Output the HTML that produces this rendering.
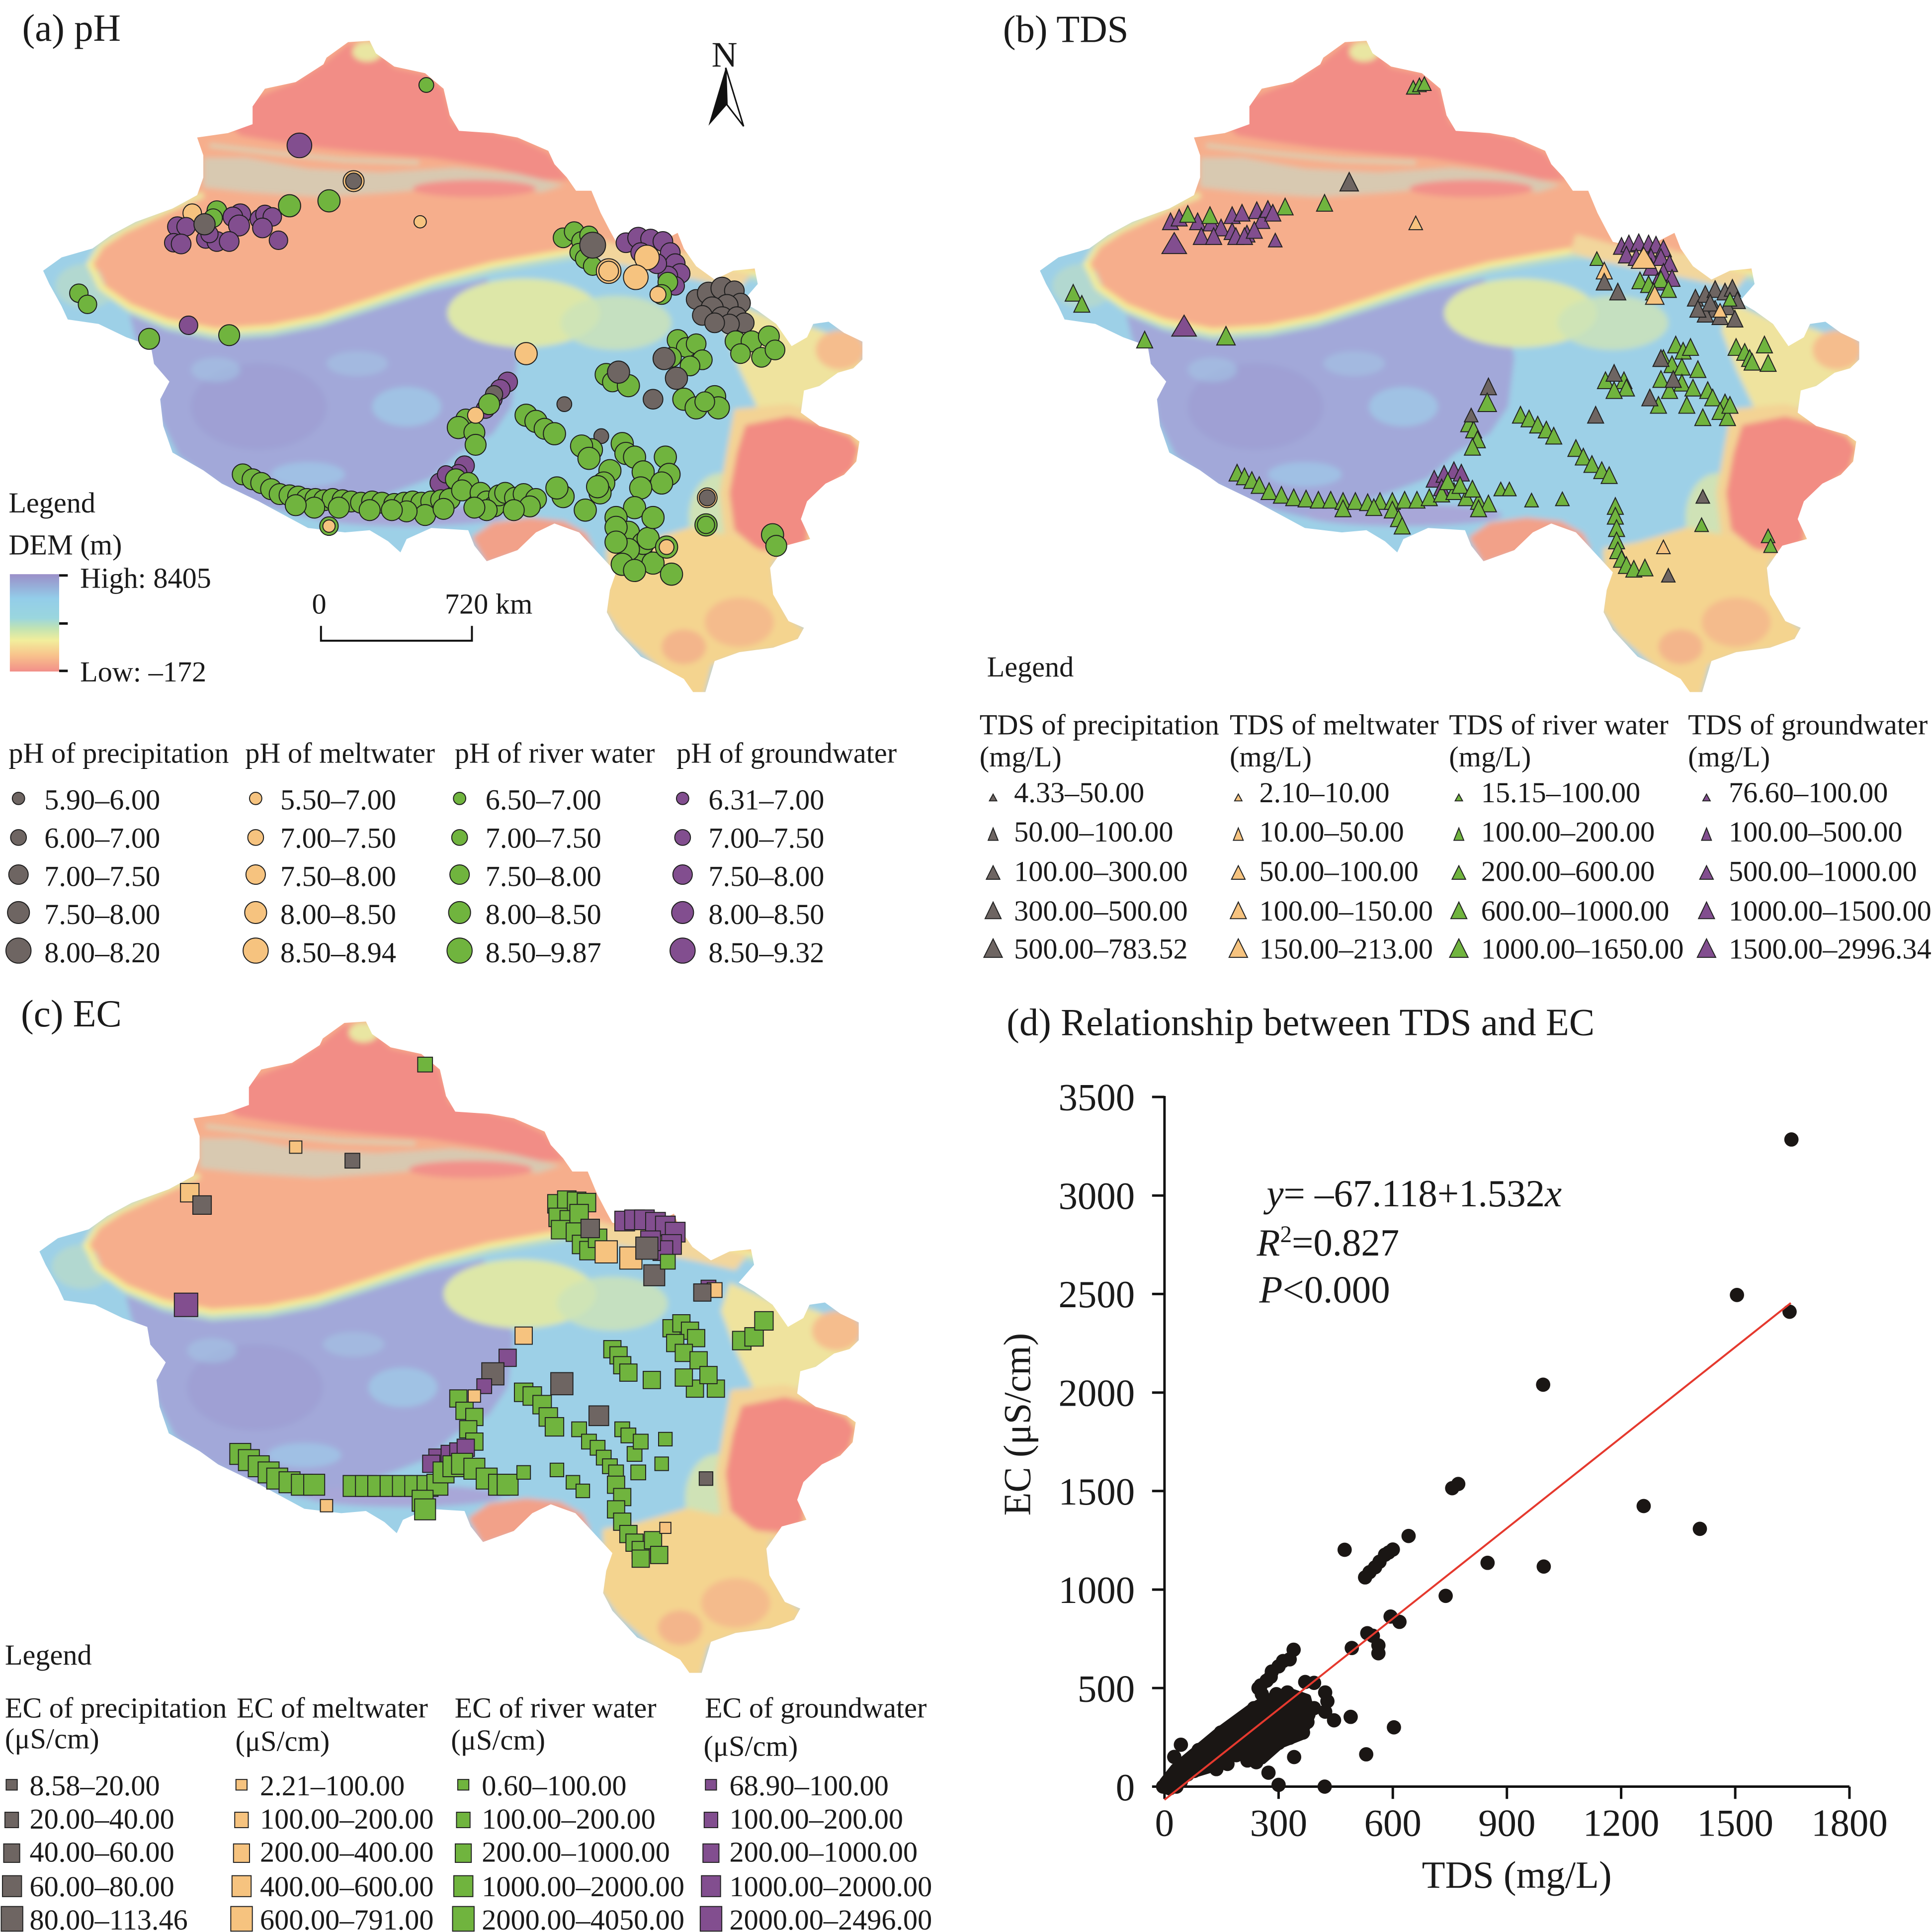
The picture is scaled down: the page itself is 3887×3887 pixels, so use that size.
<!DOCTYPE html>
<html><head><meta charset="utf-8"><style>
html,body{margin:0;padding:0;background:#fff;overflow:hidden}
svg{display:block}
text{font-family:"Liberation Serif","Times New Roman",serif;fill:#1a1a1a}
</style></head><body>
<svg xmlns="http://www.w3.org/2000/svg" xmlns:xlink="http://www.w3.org/1999/xlink" width="3887" height="3887" viewBox="0 0 1568 1568">
<defs>
<filter id="bl" x="-5%" y="-5%" width="110%" height="110%"><feGaussianBlur stdDeviation="2.3"/></filter>
<clipPath id="outline"><path d="M282.5,34.2 L300,33.1 L305,43.2 L320,54 L345,59.4 L360,72 L365,93.6 L372.5,106.2 L400,108 L420,111.6 L445,122.4 L450,133.2 L460,144 L467.5,154.8 L480,154.8 L487.5,172.8 L495,187.2 L500,196.3 L525,201.7 L550,189 L555,201.7 L565,216 L580,226.9 L595,219.7 L612.5,217.9 L615,230.5 L602.5,244.9 L615,252.1 L630,262.9 L642.5,280.9 L655,273.7 L660,262.9 L672.5,261.1 L685,270.1 L700,277.3 L700,291.7 L692.5,298.9 L680,302.5 L665,313.3 L652.5,316.9 L650,334.9 L665,345.7 L690,352.9 L697.5,358.3 L695,374.5 L685,385.3 L670,392.5 L655,406.9 L650,421.3 L657.5,437.5 L637.5,442.9 L625,460.9 L627.5,482.5 L640,504.1 L652.5,509.5 L647.5,518.5 L627.5,525.7 L600,529.3 L580,536.5 L572.5,561.7 L562.5,561.7 L555,551 L535,540.1 L520,532.9 L500,511.3 L492.5,496.9 L495,478.9 L500,464.5 L480,442.9 L470,432.1 L450,424.9 L435,432.1 L420,446.5 L395,455.5 L385,442.9 L380,430.3 L350,428.5 L330,437.5 L325,448.3 L315,439.3 L300,430.3 L280,432.1 L250,428.5 L230,417.7 L210,406.9 L180,392.5 L165,381.7 L140,367.3 L132.5,345.7 L130,324.1 L137.5,309.7 L125,295.3 L122.5,280.9 L102.5,273.7 L80,262.9 L55,259.3 L50,248.5 L40,230.5 L35,219.7 L50,208.9 L75,201.7 L90,190.9 L110,180.1 L140,169.2 L160,158.4 L165,144 L165,126 L160,111.6 L185,108 L205,100.8 L205,86.4 L215,72 L240,66.6 L262.5,52.2 L265,46.8 Z"/></clipPath>
<linearGradient id="ramp" x1="0" y1="0" x2="0" y2="1">
<stop offset="0" stop-color="#9a8fc8"/><stop offset="0.25" stop-color="#93cde9"/><stop offset="0.45" stop-color="#9ad6de"/><stop offset="0.56" stop-color="#c2e3b2"/><stop offset="0.68" stop-color="#f2ee9c"/><stop offset="0.83" stop-color="#f8c48c"/><stop offset="1" stop-color="#f28f89"/>
</linearGradient>
<g id="dem"><g clip-path="url(#outline)"><g filter="url(#bl)">
<rect x="0" y="0" width="760" height="600" fill="#9dd0e7"/>
<path d="M105,255 L135,268 L175,276 L220,273 L260,265 L300,252 L350,236 L395,226 L410,250 L420,290 L415,330 L400,352 L372,368 L350,388 L318,400 L285,412 L250,420 L210,410 L175,392 L145,370 L130,340 L125,300 L110,275 Z" fill="#a2a8d9"/>
<ellipse cx="210" cy="330" rx="55" ry="35" fill="#9c98cf" opacity="0.5"/>
<ellipse cx="330" cy="330" rx="28" ry="16" fill="#a0c8e6" opacity="0.8"/>
<ellipse cx="250" cy="385" rx="30" ry="10" fill="#a0c6e6" opacity="0.8"/>
<ellipse cx="175" cy="300" rx="20" ry="10" fill="#a4c4e4" opacity="0.6"/>
<ellipse cx="290" cy="295" rx="25" ry="10" fill="#a4c4e4" opacity="0.6"/>
<ellipse cx="330" cy="418" rx="80" ry="9" fill="#a8a7d8"/>
<ellipse cx="70" cy="232" rx="25" ry="18" fill="#b2d8d0"/>
<path d="M150,0 L760,0 L760,210 L625,222 L600,216 L570,208 L540,203 L505,201 L470,201 L440,206 L400,213 L350,226 L300,243 L260,256 L220,264 L175,267 L135,259 L105,247 L82,232 L74,215 L82,200 L100,188 L128,175 L150,165 Z" fill="#f6ae8c"/>
<polyline points="78,220 86,238 108,254 137,266 175,274 220,271 260,263 300,250 350,233 400,220 440,213 470,208 505,208 540,210 570,215 600,223 628,230" fill="none" stroke="#b7dccb" stroke-width="4"/>
<polyline points="72,212 82,233 105,249 135,261 175,269 220,266 260,258 300,245 350,228 400,215 440,208 470,203 505,203 540,205 570,210 600,218 628,225" fill="none" stroke="#f4ec96" stroke-width="5"/>
<polyline points="74,212 82,199 100,187 128,174 150,164 165,158" fill="none" stroke="#ebe7a0" stroke-width="5"/>
<path d="M185,100 L205,80 L240,66 L262,52 L282,36 L300,34 L320,55 L345,60 L360,72 L368,100 L420,112 L445,124 L462,146 L440,146 L400,136 L350,128 L300,124 L260,120 L225,115 L195,110 Z" fill="#f28d86"/>
<ellipse cx="298" cy="42" rx="12" ry="8" fill="#e9e6a2"/>
<path d="M165,128 L200,128 L250,137 L310,140 L370,136 L420,141 L458,150 L440,156 L380,150 L320,156 L260,160 L200,156 L165,152 Z" fill="#bfe0d0" opacity="0.55"/>
<polyline points="170,118 220,124 280,130 340,132" fill="none" stroke="#c8e3c7" stroke-width="3" opacity="0.7"/>
<ellipse cx="385" cy="153" rx="50" ry="7" fill="#f2908a"/>
<ellipse cx="425" cy="254" rx="62" ry="28" fill="#dde7a8"/>
<ellipse cx="500" cy="262" rx="45" ry="22" fill="#cde3b9" opacity="0.85"/>
<path d="M470,190 L500,198 L540,200 L580,215 L610,222 L600,235 L570,228 L530,220 L490,212 L465,205 Z" fill="#f2d69c"/>
<path d="M595,245 L630,260 L660,266 L700,280 L700,300 L668,314 L652,330 L642,355 L618,338 L600,300 L588,268 Z" fill="#efe39e"/>
<ellipse cx="682" cy="284" rx="20" ry="16" fill="#f5bd8d"/>
<ellipse cx="585" cy="420" rx="26" ry="36" fill="#cfe2b6"/>
<path d="M596,332 L640,328 L670,336 L700,350 L705,380 L685,398 L668,414 L662,446 L636,456 L610,454 L588,436 L584,400 L590,365 Z" fill="#f3d394"/>
<path d="M605,345 L640,338 L665,344 L690,354 L697,364 L692,381 L678,392 L664,406 L656,424 L655,440 L638,448 L615,446 L596,430 L592,400 L598,368 Z" fill="#f28c83"/>
<path d="M492,445 L520,440 L560,428 L598,436 L628,452 L628,472 L640,500 L655,512 L645,525 L600,532 L578,540 L572,565 L560,565 L535,542 L505,516 L490,495 L493,468 Z" fill="#f4d48f"/>
<ellipse cx="600" cy="505" rx="28" ry="20" fill="#f4bb8c"/>
<ellipse cx="555" cy="525" rx="18" ry="14" fill="#f3b58b"/>
<path d="M383,436 L400,424 L430,420 L458,423 L476,433 L482,446 L470,456 L440,455 L418,450 L395,458 Z" fill="#f2a189"/>
</g></g></g>
<polygon id="t1" points="0,-3.3 -3,2.2 3,2.2" stroke="#222" stroke-width="0.8"/>
<polygon id="t2" points="0,-6 -4,4 4,4" stroke="#222" stroke-width="0.8"/>
<polygon id="t3" points="0,-6.6 -5.5,4.4 5.5,4.4" stroke="#222" stroke-width="0.8"/>
<polygon id="t4" points="0,-8.1 -6.5,5.4 6.5,5.4" stroke="#222" stroke-width="0.8"/>
<polygon id="t5" points="0,-9 -7.5,6 7.5,6" stroke="#222" stroke-width="0.8"/>
<polygon id="t6" points="0,-10.2 -10,6.8 10,6.8" stroke="#222" stroke-width="0.8"/>
<rect id="s9" x="-4.5" y="-4.5" width="9" height="9" stroke="#222" stroke-width="0.8"/>
<rect id="s10" x="-5" y="-5" width="10" height="10" stroke="#222" stroke-width="0.8"/>
<rect id="s11" x="-5.5" y="-5.5" width="11" height="11" stroke="#222" stroke-width="0.8"/>
<rect id="s12" x="-6" y="-6" width="12" height="12" stroke="#222" stroke-width="0.8"/>
<rect id="s14" x="-7" y="-7" width="14" height="14" stroke="#222" stroke-width="0.8"/>
<rect id="s15" x="-7.5" y="-7.5" width="15" height="15" stroke="#222" stroke-width="0.8"/>
<rect id="s16" x="-8" y="-8" width="16" height="16" stroke="#222" stroke-width="0.8"/>
<rect id="s17" x="-8.5" y="-8.5" width="17" height="17" stroke="#222" stroke-width="0.8"/>
<rect id="s18" x="-9" y="-9" width="18" height="18" stroke="#222" stroke-width="0.8"/>
<rect id="s19" x="-9.5" y="-9.5" width="19" height="19" stroke="#222" stroke-width="0.8"/>
</defs>

<!-- maps -->
<use href="#dem" x="0" y="0"/>
<use href="#dem" x="809" y="0"/>
<use href="#dem" x="-3" y="796"/>

<!-- ===== (a) pH markers ===== -->
<g stroke="#1e1e1e" stroke-width="0.8">
<circle cx="346" cy="69" r="6" fill="#70b43e"/>
<circle cx="243" cy="118" r="10" fill="#824e8f"/>
<circle cx="287" cy="147" r="8.5" fill="#f6c37f"/><circle cx="287" cy="147" r="6.5" fill="#6e6562"/>
<circle cx="235" cy="167" r="9" fill="#70b43e"/><circle cx="267" cy="163" r="9" fill="#70b43e"/>
<circle cx="341" cy="180" r="5" fill="#f6c37f"/>
<circle cx="156" cy="173" r="7.5" fill="#f6c37f"/><circle cx="176" cy="171" r="8" fill="#70b43e"/><circle cx="173" cy="177" r="7.5" fill="#70b43e"/>
<g fill="#824e8f">
<circle cx="144" cy="184" r="8"/><circle cx="151" cy="184" r="7.5"/><circle cx="141" cy="197" r="7.5"/><circle cx="147" cy="198" r="8"/>
<circle cx="195" cy="174" r="8.5"/><circle cx="189" cy="176" r="8"/><circle cx="194" cy="183" r="8.5"/>
<circle cx="211" cy="178" r="8"/><circle cx="215" cy="174" r="7.5"/><circle cx="221" cy="176" r="7.5"/><circle cx="213" cy="185" r="8"/>
<circle cx="226" cy="195" r="7.5"/><circle cx="167" cy="194" r="7.5"/><circle cx="176" cy="196" r="8"/><circle cx="186" cy="196" r="8"/><circle cx="170" cy="190" r="7"/>
</g>
<circle cx="166" cy="182" r="8.6" fill="#6e6562"/>
<circle cx="64" cy="238" r="7.5" fill="#70b43e"/><circle cx="71" cy="247" r="7.5" fill="#70b43e"/>
<circle cx="153" cy="264" r="7.5" fill="#824e8f"/><circle cx="121" cy="275" r="8.5" fill="#70b43e"/><circle cx="186" cy="272" r="8.5" fill="#70b43e"/>
<g fill="#70b43e"><circle cx="457" cy="193" r="8"/><circle cx="466" cy="188" r="8"/><circle cx="472" cy="196" r="8"/><circle cx="478" cy="191" r="7.5"/><circle cx="470" cy="205" r="7.5"/><circle cx="475" cy="210" r="8"/><circle cx="481" cy="216" r="7.5"/></g>
<circle cx="481" cy="199" r="10.5" fill="#6e6562"/>
<circle cx="494" cy="220" r="10" fill="#f6c37f"/><circle cx="494" cy="220" r="8" fill="none"/>
<g fill="#824e8f"><circle cx="508" cy="197" r="8"/><circle cx="518" cy="193" r="8.5"/><circle cx="528" cy="194" r="8"/><circle cx="538" cy="196" r="8"/><circle cx="544" cy="205" r="8"/><circle cx="548" cy="214" r="8"/><circle cx="552" cy="222" r="8"/><circle cx="542" cy="224" r="8"/><circle cx="533" cy="214" r="8"/><circle cx="520" cy="205" r="8"/><circle cx="548" cy="232" r="7.5"/></g>
<circle cx="525" cy="209" r="10" fill="#f6c37f"/><circle cx="516" cy="225" r="10" fill="#f6c37f"/>
<circle cx="542" cy="229" r="8" fill="#70b43e"/><circle cx="537" cy="239" r="8" fill="#70b43e"/><circle cx="534" cy="239" r="6.5" fill="#f6c37f"/>
<g fill="#6e6562"><circle cx="565" cy="243" r="8"/><circle cx="575" cy="238" r="9"/><circle cx="586" cy="234" r="9"/><circle cx="596" cy="236" r="8"/><circle cx="601" cy="246" r="8"/><circle cx="590" cy="248" r="9"/><circle cx="578" cy="250" r="9"/><circle cx="570" cy="256" r="8"/><circle cx="586" cy="258" r="9"/><circle cx="598" cy="257" r="8"/><circle cx="604" cy="262" r="8"/><circle cx="592" cy="263" r="8"/><circle cx="580" cy="262" r="8"/></g>
<g fill="#70b43e"><circle cx="597" cy="277" r="8.5"/><circle cx="610" cy="277" r="8.5"/><circle cx="624" cy="273" r="8.5"/><circle cx="601" cy="287" r="8"/><circle cx="618" cy="290" r="8"/><circle cx="629" cy="284" r="8"/>
<circle cx="550" cy="276" r="8.5"/><circle cx="557" cy="282" r="8"/><circle cx="565" cy="279" r="8"/><circle cx="570" cy="292" r="8"/><circle cx="560" cy="297" r="8"/><circle cx="545" cy="290" r="8"/></g>
<circle cx="539" cy="291" r="9" fill="#6e6562"/><circle cx="549" cy="307" r="9" fill="#6e6562"/>
<circle cx="492" cy="304" r="9" fill="#70b43e"/><circle cx="497" cy="310" r="8" fill="#70b43e"/><circle cx="510" cy="313" r="9" fill="#70b43e"/><circle cx="502" cy="302" r="9" fill="#6e6562"/>
<circle cx="530" cy="324" r="8" fill="#6e6562"/>
<g fill="#70b43e"><circle cx="555" cy="324" r="9"/><circle cx="565" cy="331" r="9"/><circle cx="580" cy="322" r="9"/><circle cx="583" cy="331" r="9"/><circle cx="572" cy="326" r="8"/></g>
<circle cx="427" cy="287" r="9" fill="#f6c37f"/>
<g fill="#824e8f"><circle cx="412" cy="310" r="8"/><circle cx="406" cy="316" r="8"/><circle cx="400" cy="324" r="7.5"/><circle cx="394" cy="332" r="7.5"/></g>
<circle cx="401" cy="320" r="7" fill="#6e6562"/>
<g fill="#70b43e"><circle cx="397" cy="328" r="8.5"/><circle cx="378" cy="340" r="8"/><circle cx="372" cy="347" r="9"/><circle cx="385" cy="351" r="8.5"/><circle cx="386" cy="361" r="8.5"/></g>
<circle cx="386" cy="337" r="6.5" fill="#f6c37f"/>
<circle cx="458" cy="328" r="6" fill="#6e6562"/>
<g fill="#70b43e"><circle cx="427" cy="337" r="9"/><circle cx="435" cy="342" r="9"/><circle cx="442" cy="348" r="8.5"/><circle cx="450" cy="352" r="9"/></g>
<circle cx="488" cy="354" r="6" fill="#6e6562"/>
<g fill="#70b43e"><circle cx="480" cy="365" r="9"/><circle cx="472" cy="362" r="9"/><circle cx="478" cy="372" r="9"/><circle cx="505" cy="360" r="9"/><circle cx="508" cy="368" r="9"/><circle cx="515" cy="371" r="9"/><circle cx="522" cy="383" r="9"/><circle cx="540" cy="371" r="9"/><circle cx="543" cy="385" r="9"/><circle cx="537" cy="392" r="9"/><circle cx="495" cy="382" r="9"/><circle cx="490" cy="392" r="9"/><circle cx="487" cy="400" r="9"/><circle cx="520" cy="396" r="9"/><circle cx="515" cy="412" r="9"/><circle cx="500" cy="420" r="9"/><circle cx="510" cy="432" r="9"/><circle cx="520" cy="447" r="9"/><circle cx="530" cy="457" r="9"/><circle cx="545" cy="466" r="9"/><circle cx="522" cy="441" r="9"/><circle cx="500" cy="428" r="9"/><circle cx="475" cy="414" r="9"/><circle cx="457" cy="403" r="9"/><circle cx="452" cy="396" r="9"/><circle cx="485" cy="395" r="9"/><circle cx="510" cy="446" r="9"/><circle cx="505" cy="458" r="9"/><circle cx="515" cy="463" r="9"/><circle cx="526" cy="437" r="9"/><circle cx="530" cy="420" r="9"/><circle cx="500" cy="440" r="9"/></g>
<circle cx="541" cy="444" r="9" fill="#70b43e"/><circle cx="541" cy="444" r="6" fill="#f6c37f"/>
<circle cx="574" cy="404" r="8" fill="#f6c37f"/><circle cx="574" cy="404" r="6.5" fill="#6e6562"/>
<circle cx="573" cy="426" r="9" fill="#70b43e"/><circle cx="573" cy="426" r="7" fill="none"/>
<circle cx="627" cy="434" r="9" fill="#70b43e"/><circle cx="630" cy="443" r="8.5" fill="#70b43e"/>
<g fill="#824e8f"><circle cx="357" cy="392" r="8"/><circle cx="377" cy="378" r="8"/><circle cx="372" cy="384" r="7"/><circle cx="362" cy="385" r="7"/></g>
<g fill="#70b43e"><circle cx="197" cy="385" r="8.5"/><circle cx="205" cy="389" r="8.5"/><circle cx="212" cy="392" r="8.5"/><circle cx="220" cy="397" r="8.5"/><circle cx="227" cy="401" r="8.5"/><circle cx="235" cy="402" r="8.5"/><circle cx="242" cy="403" r="8.5"/><circle cx="249" cy="405" r="8.5"/><circle cx="256" cy="405" r="8.5"/><circle cx="263" cy="406" r="8.5"/><circle cx="270" cy="405" r="8.5"/><circle cx="278" cy="406" r="8.5"/><circle cx="285" cy="407" r="8.5"/><circle cx="293" cy="408" r="8.5"/><circle cx="302" cy="407" r="8.5"/><circle cx="310" cy="408" r="8.5"/><circle cx="320" cy="409" r="8.5"/><circle cx="328" cy="408" r="8.5"/><circle cx="335" cy="407" r="8.5"/><circle cx="342" cy="408" r="8.5"/><circle cx="350" cy="407" r="8.5"/><circle cx="358" cy="406" r="8.5"/><circle cx="365" cy="405" r="8.5"/><circle cx="370" cy="389" r="8.5"/><circle cx="380" cy="392" r="8.5"/><circle cx="375" cy="398" r="8.5"/><circle cx="390" cy="400" r="8.5"/><circle cx="395" cy="407" r="8.5"/><circle cx="401" cy="411" r="8.5"/><circle cx="405" cy="402" r="8.5"/><circle cx="410" cy="400" r="8.5"/><circle cx="418" cy="404" r="8.5"/><circle cx="425" cy="401" r="8.5"/><circle cx="435" cy="405" r="8.5"/><circle cx="430" cy="411" r="8.5"/><circle cx="345" cy="418" r="8.5"/><circle cx="300" cy="414" r="8.5"/><circle cx="395" cy="414" r="8.5"/><circle cx="417" cy="414" r="8.5"/><circle cx="360" cy="413" r="8.5"/><circle cx="385" cy="412" r="8.5"/><circle cx="330" cy="415" r="8.5"/><circle cx="318" cy="414" r="8.5"/><circle cx="255" cy="412" r="8.5"/><circle cx="240" cy="410" r="8.5"/><circle cx="275" cy="412" r="8.5"/></g>
<circle cx="267" cy="427" r="7.5" fill="#70b43e"/><circle cx="267" cy="427" r="5" fill="#f6c37f"/>
</g>

<!-- ===== (b) TDS markers ===== -->
<g>
<use href="#t3" x="1147" y="72" fill="#70b43e"/><use href="#t3" x="1152" y="70" fill="#70b43e"/><use href="#t3" x="1156" y="69" fill="#70b43e"/>
<use href="#t5" x="1095" y="149" fill="#6e6562"/>
<use href="#t3" x="1149" y="182" fill="#f6c37f"/>
<use href="#t4" x="1043" y="169" fill="#70b43e"/><use href="#t4" x="1075" y="166" fill="#70b43e"/>
<g fill="#824e8f">
<use href="#t4" x="950" y="181"/><use href="#t4" x="957" y="178"/><use href="#t4" x="972" y="181"/><use href="#t4" x="983" y="182"/><use href="#t4" x="991" y="186"/><use href="#t4" x="1000" y="176"/><use href="#t4" x="1008" y="174"/><use href="#t4" x="1020" y="172"/><use href="#t4" x="1024" y="180"/><use href="#t4" x="1029" y="171"/><use href="#t4" x="1033" y="174"/><use href="#t4" x="1000" y="189"/><use href="#t4" x="1012" y="191"/><use href="#t4" x="975" y="193"/><use href="#t4" x="985" y="193"/><use href="#t4" x="1003" y="193"/><use href="#t4" x="1010" y="193"/><use href="#t4" x="1018" y="188"/>
</g>
<use href="#t4" x="964" y="175" fill="#70b43e"/><use href="#t4" x="982" y="176" fill="#70b43e"/>
<use href="#t6" x="953" y="199" fill="#824e8f"/><use href="#t3" x="1035" y="196" fill="#824e8f"/><use href="#t6" x="961" y="266" fill="#824e8f"/>
<use href="#t4" x="871" y="239" fill="#70b43e"/><use href="#t4" x="878" y="248" fill="#70b43e"/><use href="#t4" x="929" y="277" fill="#70b43e"/><use href="#t5" x="995" y="274" fill="#70b43e"/>
<g fill="#824e8f">
<use href="#t4" x="1316" y="201"/><use href="#t4" x="1322" y="199"/><use href="#t4" x="1330" y="198"/><use href="#t4" x="1338" y="199"/><use href="#t4" x="1344" y="200"/><use href="#t4" x="1350" y="203"/><use href="#t4" x="1320" y="208"/><use href="#t4" x="1328" y="210"/><use href="#t4" x="1340" y="210"/><use href="#t4" x="1348" y="210"/><use href="#t4" x="1355" y="215"/><use href="#t4" x="1340" y="218"/><use href="#t4" x="1350" y="222"/><use href="#t4" x="1357" y="227"/><use href="#t4" x="1345" y="230"/>
</g>
<use href="#t6" x="1334" y="211" fill="#f6c37f"/>
<use href="#t3" x="1296" y="211" fill="#70b43e"/><use href="#t4" x="1302" y="221" fill="#f6c37f"/>
<use href="#t4" x="1302" y="230" fill="#6e6562"/><use href="#t4" x="1313" y="238" fill="#6e6562"/>
<g fill="#70b43e"><use href="#t4" x="1331" y="229"/><use href="#t4" x="1338" y="232"/><use href="#t4" x="1348" y="228"/><use href="#t4" x="1354" y="236"/><use href="#t4" x="1342" y="238"/></g>
<use href="#t5" x="1343" y="241" fill="#f6c37f"/>
<g fill="#6e6562"><use href="#t4" x="1376" y="243"/><use href="#t4" x="1384" y="240"/><use href="#t4" x="1392" y="236"/><use href="#t4" x="1400" y="238"/><use href="#t4" x="1406" y="235"/><use href="#t4" x="1410" y="245"/><use href="#t4" x="1402" y="250"/><use href="#t4" x="1392" y="252"/><use href="#t4" x="1384" y="256"/><use href="#t4" x="1396" y="258"/><use href="#t4" x="1408" y="260"/><use href="#t4" x="1388" y="247"/><use href="#t4" x="1378" y="252"/></g>
<use href="#t3" x="1396" y="253" fill="#f6c37f"/><use href="#t3" x="1404" y="244" fill="#70b43e"/>
<g fill="#70b43e"><use href="#t4" x="1360" y="281"/><use href="#t4" x="1366" y="286"/><use href="#t4" x="1372" y="283"/><use href="#t4" x="1350" y="292"/><use href="#t4" x="1357" y="297"/><use href="#t4" x="1365" y="299"/><use href="#t4" x="1378" y="301"/><use href="#t4" x="1348" y="309"/><use href="#t4" x="1355" y="318"/><use href="#t4" x="1365" y="312"/><use href="#t4" x="1374" y="316"/><use href="#t4" x="1386" y="318"/><use href="#t4" x="1390" y="324"/><use href="#t4" x="1400" y="328"/><use href="#t4" x="1396" y="335"/><use href="#t4" x="1369" y="330"/><use href="#t4" x="1346" y="330"/><use href="#t4" x="1382" y="340"/><use href="#t4" x="1402" y="340"/><use href="#t4" x="1404" y="330"/>
<use href="#t4" x="1409" y="283"/><use href="#t4" x="1416" y="287"/><use href="#t4" x="1420" y="292"/><use href="#t4" x="1432" y="281"/><use href="#t4" x="1422" y="295"/><use href="#t4" x="1435" y="296"/></g>
<use href="#t4" x="1348" y="292" fill="#6e6562"/><use href="#t4" x="1358" y="309" fill="#6e6562"/><use href="#t4" x="1339" y="324" fill="#6e6562"/>
<g fill="#70b43e"><use href="#t4" x="1303" y="310"/><use href="#t4" x="1318" y="310"/><use href="#t4" x="1320" y="316"/><use href="#t4" x="1310" y="318"/></g>
<use href="#t4" x="1310" y="304" fill="#6e6562"/><use href="#t4" x="1295" y="338" fill="#6e6562"/>
<use href="#t4" x="1208" y="315" fill="#6e6562"/><use href="#t5" x="1207" y="328" fill="#70b43e"/>
<g fill="#70b43e"><use href="#t4" x="1192" y="345"/><use href="#t4" x="1196" y="350"/><use href="#t4" x="1199" y="358"/><use href="#t4" x="1195" y="364"/></g>
<use href="#t3" x="1194" y="338" fill="#6e6562"/>
<g fill="#70b43e"><use href="#t4" x="1234" y="338"/><use href="#t4" x="1241" y="341"/><use href="#t4" x="1248" y="346"/><use href="#t4" x="1255" y="350"/><use href="#t4" x="1261" y="355"/>
<use href="#t4" x="1279" y="365"/><use href="#t4" x="1285" y="372"/><use href="#t4" x="1292" y="378"/><use href="#t4" x="1300" y="383"/><use href="#t4" x="1306" y="387"/></g>
<g fill="#824e8f"><use href="#t4" x="1164" y="390"/><use href="#t4" x="1172" y="386"/><use href="#t4" x="1180" y="383"/><use href="#t4" x="1186" y="385"/><use href="#t4" x="1170" y="397"/></g>
<g fill="#70b43e"><use href="#t4" x="1004" y="385"/><use href="#t4" x="1010" y="388"/><use href="#t4" x="1016" y="391"/><use href="#t4" x="1022" y="395"/><use href="#t4" x="1030" y="400"/><use href="#t4" x="1040" y="403"/><use href="#t4" x="1050" y="405"/><use href="#t4" x="1060" y="406"/><use href="#t4" x="1070" y="407"/><use href="#t4" x="1080" y="407"/><use href="#t4" x="1090" y="408"/><use href="#t4" x="1100" y="408"/><use href="#t4" x="1110" y="409"/><use href="#t4" x="1120" y="408"/><use href="#t4" x="1130" y="408"/><use href="#t4" x="1140" y="407"/><use href="#t4" x="1150" y="407"/><use href="#t4" x="1160" y="405"/><use href="#t4" x="1170" y="402"/><use href="#t4" x="1180" y="400"/><use href="#t4" x="1190" y="405"/><use href="#t4" x="1200" y="408"/><use href="#t4" x="1208" y="410"/><use href="#t4" x="1175" y="392"/><use href="#t4" x="1185" y="395"/><use href="#t4" x="1195" y="398"/><use href="#t4" x="1130" y="415"/><use href="#t4" x="1135" y="422"/><use href="#t4" x="1138" y="428"/><use href="#t4" x="1115" y="413"/><use href="#t4" x="1090" y="414"/><use href="#t4" x="1200" y="414"/>
<use href="#t4" x="1311" y="412"/><use href="#t4" x="1311" y="420"/><use href="#t4" x="1312" y="430"/><use href="#t4" x="1312" y="440"/><use href="#t4" x="1313" y="448"/><use href="#t4" x="1316" y="455"/><use href="#t4" x="1320" y="460"/><use href="#t4" x="1326" y="463"/><use href="#t4" x="1335" y="462"/></g>
<use href="#t3" x="1354" y="468" fill="#6e6562"/><use href="#t3" x="1350" y="445" fill="#f6c37f"/><use href="#t3" x="1382" y="404" fill="#6e6562"/>
<g fill="#70b43e"><use href="#t3" x="1381" y="427"/><use href="#t3" x="1435" y="436"/><use href="#t3" x="1437" y="444"/><use href="#t3" x="1218" y="398"/><use href="#t3" x="1225" y="398"/><use href="#t3" x="1243" y="407"/><use href="#t3" x="1268" y="406"/></g>
</g>

<!-- ===== (c) EC markers ===== -->
<g>
<use href="#s12" x="345" y="864" fill="#70b43e"/>
<use href="#s10" x="240" y="931" fill="#f6c37f"/><use href="#s12" x="286" y="942" fill="#6e6562"/>
<use href="#s15" x="154" y="968" fill="#f6c37f"/><use href="#s15" x="164" y="978" fill="#6e6562"/>
<use href="#s19" x="151" y="1059" fill="#824e8f"/>
<g fill="#70b43e"><use href="#s15" x="452" y="977"/><use href="#s15" x="460" y="974"/><use href="#s15" x="468" y="975"/><use href="#s15" x="476" y="976"/><use href="#s15" x="453" y="988"/><use href="#s15" x="462" y="990"/><use href="#s15" x="470" y="985"/><use href="#s15" x="455" y="998"/><use href="#s15" x="467" y="1000"/><use href="#s15" x="472" y="1010"/><use href="#s15" x="478" y="1015"/><use href="#s15" x="485" y="1005"/></g>
<use href="#s15" x="479" y="997" fill="#6e6562"/>
<g fill="#824e8f"><use href="#s16" x="507" y="991"/><use href="#s16" x="515" y="990"/><use href="#s16" x="523" y="990"/><use href="#s16" x="532" y="992"/><use href="#s16" x="540" y="995"/><use href="#s16" x="548" y="1000"/><use href="#s16" x="545" y="1010"/><use href="#s16" x="538" y="1015"/><use href="#s16" x="528" y="1007"/></g>
<use href="#s18" x="492" y="1016" fill="#f6c37f"/><use href="#s18" x="512" y="1021" fill="#f6c37f"/>
<use href="#s18" x="525" y="1013" fill="#6e6562"/><use href="#s17" x="531" y="1035" fill="#6e6562"/>
<use href="#s12" x="542" y="1024" fill="#70b43e"/>
<use href="#s12" x="575" y="1045" fill="#824e8f"/><use href="#s12" x="580" y="1047" fill="#f6c37f"/><use href="#s14" x="570" y="1049" fill="#6e6562"/>
<use href="#s14" x="425" y="1084" fill="#f6c37f"/>
<g fill="#70b43e"><use href="#s14" x="545" y="1078"/><use href="#s14" x="553" y="1074"/><use href="#s14" x="560" y="1080"/><use href="#s14" x="565" y="1086"/><use href="#s14" x="548" y="1090"/><use href="#s14" x="555" y="1098"/><use href="#s14" x="567" y="1104"/>
<use href="#s15" x="602" y="1088"/><use href="#s15" x="612" y="1085"/><use href="#s15" x="620" y="1072"/></g>
<use href="#s14" x="412" y="1102" fill="#824e8f"/><use href="#s18" x="400" y="1115" fill="#6e6562"/><use href="#s12" x="393" y="1125" fill="#824e8f"/>
<g fill="#70b43e"><use href="#s14" x="372" y="1135"/><use href="#s14" x="377" y="1145"/><use href="#s14" x="385" y="1150"/><use href="#s14" x="380" y="1160"/><use href="#s14" x="385" y="1170"/></g>
<use href="#s10" x="385" y="1133" fill="#f6c37f"/>
<use href="#s18" x="456" y="1123" fill="#6e6562"/>
<g fill="#70b43e"><use href="#s15" x="425" y="1130"/><use href="#s15" x="432" y="1133"/><use href="#s15" x="440" y="1140"/><use href="#s15" x="445" y="1150"/><use href="#s15" x="450" y="1158"/>
<use href="#s14" x="497" y="1095"/><use href="#s14" x="502" y="1100"/><use href="#s14" x="505" y="1108"/><use href="#s14" x="510" y="1114"/>
<use href="#s14" x="529" y="1120"/><use href="#s14" x="564" y="1127"/><use href="#s14" x="581" y="1127"/><use href="#s14" x="555" y="1118"/><use href="#s14" x="575" y="1116"/></g>
<use href="#s16" x="486" y="1149" fill="#6e6562"/>
<g fill="#70b43e"><use href="#s12" x="470" y="1160"/><use href="#s12" x="478" y="1170"/><use href="#s12" x="485" y="1175"/><use href="#s12" x="490" y="1183"/><use href="#s12" x="495" y="1190"/><use href="#s12" x="500" y="1195"/><use href="#s12" x="505" y="1160"/><use href="#s12" x="510" y="1165"/><use href="#s12" x="515" y="1180"/><use href="#s12" x="518" y="1195"/><use href="#s12" x="520" y="1170"/>
<use href="#s14" x="500" y="1205"/><use href="#s14" x="505" y="1215"/><use href="#s14" x="500" y="1225"/><use href="#s14" x="505" y="1235"/><use href="#s14" x="510" y="1245"/><use href="#s14" x="515" y="1252"/><use href="#s14" x="520" y="1258"/><use href="#s14" x="530" y="1250"/><use href="#s14" x="535" y="1262"/><use href="#s14" x="520" y="1265"/></g>
<use href="#s9" x="540" y="1240" fill="#f6c37f"/><use href="#s11" x="573" y="1200" fill="#6e6562"/>
<g fill="#824e8f"><use href="#s14" x="355" y="1183"/><use href="#s14" x="365" y="1180"/><use href="#s14" x="372" y="1178"/><use href="#s14" x="378" y="1175"/><use href="#s14" x="350" y="1188"/></g>
<g fill="#70b43e"><use href="#s17" x="195" y="1180"/><use href="#s17" x="202" y="1185"/><use href="#s17" x="210" y="1190"/><use href="#s17" x="218" y="1195"/><use href="#s17" x="225" y="1200"/><use href="#s17" x="235" y="1203"/><use href="#s17" x="245" y="1205"/><use href="#s17" x="255" y="1205"/><use href="#s17" x="287" y="1206"/><use href="#s17" x="297" y="1206"/><use href="#s17" x="307" y="1206"/><use href="#s17" x="317" y="1206"/><use href="#s17" x="327" y="1206"/><use href="#s17" x="337" y="1206"/><use href="#s17" x="347" y="1206"/><use href="#s17" x="355" y="1205"/><use href="#s17" x="360" y="1195"/><use href="#s17" x="368" y="1190"/><use href="#s17" x="375" y="1188"/><use href="#s17" x="385" y="1192"/><use href="#s17" x="395" y="1200"/><use href="#s17" x="405" y="1205"/><use href="#s17" x="412" y="1205"/><use href="#s17" x="343" y="1218"/><use href="#s17" x="345" y="1225"/>
<use href="#s11" x="425" y="1195"/><use href="#s11" x="452" y="1193"/><use href="#s11" x="465" y="1203"/><use href="#s11" x="473" y="1210"/><use href="#s11" x="540" y="1168"/><use href="#s11" x="537" y="1188"/></g>
<use href="#s10" x="265" y="1222" fill="#f6c37f"/>
</g>

<!-- ===== Titles ===== -->
<text x="18" y="33" font-size="31">(a) pH</text>
<text x="814" y="34" font-size="31">(b) TDS</text>
<text x="17" y="833" font-size="31">(c) EC</text>
<text x="817" y="840" font-size="31">(d) Relationship between TDS and EC</text>

<!-- North arrow -->
<text x="588" y="54" font-size="29" text-anchor="middle">N</text>
<polygon points="589,55 575,102 590,85" fill="#111"/>
<polygon points="589,55 603.5,102.5 590,85" fill="#fff" stroke="#111" stroke-width="1.2"/>

<!-- DEM legend -->
<text x="7" y="416" font-size="23.5">Legend</text>
<text x="7" y="450" font-size="23.5">DEM (m)</text>
<rect x="8" y="466" width="40" height="79" fill="url(#ramp)"/>
<g stroke="#111" stroke-width="2"><line x1="48" y1="467" x2="55" y2="467"/><line x1="48" y1="506" x2="55" y2="506"/><line x1="48" y1="544.5" x2="55" y2="544.5"/></g>
<text x="65" y="477" font-size="23.5">High: 8405</text>
<text x="65" y="553" font-size="23.5">Low: –172</text>
<!-- scale bar -->
<text x="259" y="498" font-size="23.5" text-anchor="middle">0</text>
<text x="361" y="498" font-size="23.5">720 km</text>
<path d="M260.5,508 V520 H383 V508" fill="none" stroke="#111" stroke-width="1.6"/>

<!-- pH legend -->
<g font-size="23.5">
<text x="7" y="619">pH of precipitation</text><text x="199" y="619">pH of meltwater</text><text x="369" y="619">pH of river water</text><text x="549" y="619">pH of groundwater</text>
<text x="36" y="657">5.90–6.00</text><text x="36" y="688">6.00–7.00</text><text x="36" y="719">7.00–7.50</text><text x="36" y="750">7.50–8.00</text><text x="36" y="781">8.00–8.20</text>
<text x="227.5" y="657">5.50–7.00</text><text x="227.5" y="688">7.00–7.50</text><text x="227.5" y="719">7.50–8.00</text><text x="227.5" y="750">8.00–8.50</text><text x="227.5" y="781">8.50–8.94</text>
<text x="394" y="657">6.50–7.00</text><text x="394" y="688">7.00–7.50</text><text x="394" y="719">7.50–8.00</text><text x="394" y="750">8.00–8.50</text><text x="394" y="781">8.50–9.87</text>
<text x="575" y="657">6.31–7.00</text><text x="575" y="688">7.00–7.50</text><text x="575" y="719">7.50–8.00</text><text x="575" y="750">8.00–8.50</text><text x="575" y="781">8.50–9.32</text>
</g>
<g stroke="#1e1e1e" stroke-width="0.8">
<g fill="#6e6562"><circle cx="15" cy="648" r="5"/><circle cx="15" cy="679.7" r="6.4"/><circle cx="15" cy="709.8" r="7.9"/><circle cx="15" cy="740.6" r="8.9"/><circle cx="15" cy="771.5" r="10.2"/></g>
<g fill="#f6c37f"><circle cx="207.5" cy="648" r="5"/><circle cx="207.5" cy="679.7" r="6.4"/><circle cx="207.5" cy="709.8" r="7.9"/><circle cx="207.5" cy="740.6" r="8.9"/><circle cx="207.5" cy="771.5" r="10.2"/></g>
<g fill="#70b43e"><circle cx="373" cy="648" r="5"/><circle cx="373" cy="679.7" r="6.4"/><circle cx="373" cy="709.8" r="7.9"/><circle cx="373" cy="740.6" r="8.9"/><circle cx="373" cy="771.5" r="10.2"/></g>
<g fill="#824e8f"><circle cx="554" cy="648" r="5"/><circle cx="554" cy="679.7" r="6.4"/><circle cx="554" cy="709.8" r="7.9"/><circle cx="554" cy="740.6" r="8.9"/><circle cx="554" cy="771.5" r="10.2"/></g>
</g>

<!-- TDS legend -->
<g font-size="23.5">
<text x="801" y="549">Legend</text>
<text x="795" y="596">TDS of precipitation</text><text x="998" y="596">TDS of meltwater</text><text x="1176" y="596">TDS of river water</text><text x="1370" y="596">TDS of groundwater</text>
<text x="795" y="622">(mg/L)</text><text x="998" y="622">(mg/L)</text><text x="1176" y="622">(mg/L)</text><text x="1370" y="622">(mg/L)</text>
<text x="823" y="651">4.33–50.00</text><text x="823" y="683">50.00–100.00</text><text x="823" y="715">100.00–300.00</text><text x="823" y="747">300.00–500.00</text><text x="823" y="778">500.00–783.52</text>
<text x="1022" y="651">2.10–10.00</text><text x="1022" y="683">10.00–50.00</text><text x="1022" y="715">50.00–100.00</text><text x="1022" y="747">100.00–150.00</text><text x="1022" y="778">150.00–213.00</text>
<text x="1202" y="651">15.15–100.00</text><text x="1202" y="683">100.00–200.00</text><text x="1202" y="715">200.00–600.00</text><text x="1202" y="747">600.00–1000.00</text><text x="1202" y="778">1000.00–1650.00</text>
<text x="1403" y="651">76.60–100.00</text><text x="1403" y="683">100.00–500.00</text><text x="1403" y="715">500.00–1000.00</text><text x="1403" y="747">1000.00–1500.00</text><text x="1403" y="778">1500.00–2996.34</text>
</g>
<g fill="#6e6562"><use href="#t1" x="806" y="647.8"/><use href="#t2" x="806" y="678"/><use href="#t3" x="806" y="709.2"/><use href="#t4" x="806" y="740.2"/><use href="#t5" x="806" y="771"/></g>
<g fill="#f6c37f"><use href="#t1" x="1005" y="647.8"/><use href="#t2" x="1005" y="678"/><use href="#t3" x="1005" y="709.2"/><use href="#t4" x="1005" y="740.2"/><use href="#t5" x="1005" y="771"/></g>
<g fill="#70b43e"><use href="#t1" x="1184" y="647.8"/><use href="#t2" x="1184" y="678"/><use href="#t3" x="1184" y="709.2"/><use href="#t4" x="1184" y="740.2"/><use href="#t5" x="1184" y="771"/></g>
<g fill="#824e8f"><use href="#t1" x="1385" y="647.8"/><use href="#t2" x="1385" y="678"/><use href="#t3" x="1385" y="709.2"/><use href="#t4" x="1385" y="740.2"/><use href="#t5" x="1385" y="771"/></g>

<!-- EC legend -->
<g font-size="23.5">
<text x="4" y="1351">Legend</text>
<text x="4" y="1394">EC of precipitation</text><text x="192" y="1394">EC of meltwater</text><text x="369" y="1394">EC of river water</text><text x="572" y="1394">EC of groundwater</text>
<text x="4" y="1419">(μS/cm)</text><text x="191" y="1421">(μS/cm)</text><text x="366" y="1420">(μS/cm)</text><text x="571" y="1425">(μS/cm)</text>
<text x="24" y="1457">8.58–20.00</text><text x="24" y="1484">20.00–40.00</text><text x="24" y="1511">40.00–60.00</text><text x="24" y="1539">60.00–80.00</text><text x="24" y="1566">80.00–113.46</text>
<text x="211" y="1457">2.21–100.00</text><text x="211" y="1484">100.00–200.00</text><text x="211" y="1511">200.00–400.00</text><text x="211" y="1539">400.00–600.00</text><text x="211" y="1566">600.00–791.00</text>
<text x="391" y="1457">0.60–100.00</text><text x="391" y="1484">100.00–200.00</text><text x="391" y="1511">200.00–1000.00</text><text x="391" y="1539">1000.00–2000.00</text><text x="391" y="1566">2000.00–4050.00</text>
<text x="592" y="1457">68.90–100.00</text><text x="592" y="1484">100.00–200.00</text><text x="592" y="1511">200.00–1000.00</text><text x="592" y="1539">1000.00–2000.00</text><text x="592" y="1566">2000.00–2496.00</text>
</g>
<g stroke="#222" stroke-width="0.8">
<g fill="#6e6562"><rect x="5" y="1444.2" width="9" height="8.6"/><rect x="4" y="1470.8" width="11" height="12.5"/><rect x="3" y="1496.5" width="13" height="15"/><rect x="2" y="1522.3" width="15.5" height="17"/><rect x="1" y="1547.3" width="17.5" height="20"/></g>
<g fill="#f6c37f"><rect x="191.5" y="1444.2" width="9" height="8.6"/><rect x="190.5" y="1470.8" width="11" height="12.5"/><rect x="189.5" y="1496.5" width="13" height="15"/><rect x="188.3" y="1522.3" width="15.5" height="17"/><rect x="187.3" y="1547.3" width="17.5" height="20"/></g>
<g fill="#70b43e"><rect x="371.5" y="1444.2" width="9" height="8.6"/><rect x="370.5" y="1470.8" width="11" height="12.5"/><rect x="369.5" y="1496.5" width="13" height="15"/><rect x="368.3" y="1522.3" width="15.5" height="17"/><rect x="367.3" y="1547.3" width="17.5" height="20"/></g>
<g fill="#824e8f"><rect x="572.5" y="1444.2" width="9" height="8.6"/><rect x="571.5" y="1470.8" width="11" height="12.5"/><rect x="570.5" y="1496.5" width="13" height="15"/><rect x="569.3" y="1522.3" width="15.5" height="17"/><rect x="568.3" y="1547.3" width="17.5" height="20"/></g>
</g>

<!-- ===== (d) scatter ===== -->
<g stroke="#111" stroke-width="2" fill="none">
<path d="M945.1,889.5 V1450 H1501"/>
<path d="M935,1450 H945 M935,1370 H945 M935,1290.1 H945 M935,1210.1 H945 M935,1130.2 H945 M935,1050.2 H945 M935,970.3 H945 M935,890.3 H945"/>
<path d="M945.1,1450 V1460 M1037.7,1450 V1460 M1130.4,1450 V1460 M1223,1450 V1460 M1315.7,1450 V1460 M1408.3,1450 V1460 M1501,1450 V1460"/>
</g>
<g font-size="31" text-anchor="end">
<text x="921" y="1461">0</text><text x="921" y="1381">500</text><text x="921" y="1301">1000</text><text x="921" y="1221">1500</text><text x="921" y="1141">2000</text><text x="921" y="1061">2500</text><text x="921" y="981">3000</text><text x="921" y="901">3500</text>
</g>
<g font-size="31" text-anchor="middle">
<text x="945.1" y="1490">0</text><text x="1037.7" y="1490">300</text><text x="1130.4" y="1490">600</text><text x="1223" y="1490">900</text><text x="1315.7" y="1490">1200</text><text x="1408.3" y="1490">1500</text><text x="1501" y="1490">1800</text>
<text x="1231" y="1532">TDS (mg/L)</text>
<text transform="translate(836,1156) rotate(-90)" x="0" y="0">EC (μS/cm)</text>
</g>
<text x="1028" y="979" font-size="31"><tspan font-style="italic">y</tspan>= –67.118+1.532<tspan font-style="italic">x</tspan></text>
<text x="1020" y="1019" font-size="31"><tspan font-style="italic">R</tspan><tspan dy="-11" font-size="19">2</tspan><tspan dy="11">=0.827</tspan></text>
<text x="1022" y="1057" font-size="31"><tspan font-style="italic">P</tspan>&lt;0.000</text>

<g fill="#1a1614">
<path d="M945.8,1451.4 L944,1445.7 L953,1434.4 L987.2,1406.1 L1014.2,1386.3 L1028.6,1377.8 L1044.9,1372.2 L1061.1,1377.8 L1064.7,1392 L1057.5,1408.9 L1039.5,1416 L1025,1428.8 L1003.4,1425.9 L987.2,1434.4 L963.8,1441.5 L954.8,1451.4 Z" stroke="#1a1614" stroke-width="6" stroke-linejoin="round"/>
<circle cx="1453.9" cy="924.8" r="5.8"/><circle cx="1409.7" cy="1051" r="5.8"/><circle cx="1452.4" cy="1064.6" r="5.8"/><circle cx="1252.4" cy="1123.8" r="5.8"/><circle cx="1178.6" cy="1207.8" r="5.8"/><circle cx="1183.5" cy="1204.4" r="5.8"/><circle cx="1334" cy="1222.3" r="5.8"/><circle cx="1379.6" cy="1240.8" r="5.8"/><circle cx="1252.9" cy="1271.4" r="5.8"/><circle cx="1207.3" cy="1268.4" r="5.8"/><circle cx="1173.3" cy="1295.2" r="5.8"/><circle cx="1143.2" cy="1246.6" r="5.8"/><circle cx="1091.3" cy="1257.8" r="5.8"/>
<circle cx="1107.9" cy="1280.2" r="5.8"/><circle cx="1111.5" cy="1276" r="5.8"/><circle cx="1116" cy="1272" r="5.8"/><circle cx="1119.6" cy="1267.5" r="5.8"/><circle cx="1124.1" cy="1261.8" r="5.8"/><circle cx="1130.4" cy="1257.6" r="5.8"/><circle cx="1127" cy="1260" r="5.8"/>
<circle cx="1128.6" cy="1312" r="5.8"/><circle cx="1135.8" cy="1316.3" r="5.8"/><circle cx="1109.7" cy="1325.5" r="5.8"/><circle cx="1114.2" cy="1327.6" r="5.8"/><circle cx="1097.1" cy="1337.5" r="5.8"/><circle cx="1118.7" cy="1335.4" r="5.8"/><circle cx="1118.7" cy="1341.8" r="5.8"/>
<circle cx="1096.2" cy="1393.4" r="5.8"/><circle cx="1131.3" cy="1401.9" r="5.8"/><circle cx="1108.8" cy="1423.8" r="5.8"/><circle cx="1050.3" cy="1426" r="5.8"/><circle cx="1029.5" cy="1438.7" r="5.8"/><circle cx="1037.7" cy="1448.6" r="5.8"/><circle cx="1075.1" cy="1450" r="5.8"/>
<circle cx="1049.9" cy="1338.9" r="5.8"/><circle cx="1046.7" cy="1346.7" r="5.8"/><circle cx="1041.3" cy="1348.1" r="5.8"/><circle cx="1037.7" cy="1352.4" r="5.8"/><circle cx="1032.2" cy="1356.6" r="5.8"/><circle cx="1031.3" cy="1360.9" r="5.8"/><circle cx="1023.2" cy="1367.9" r="5.8"/><circle cx="1021.4" cy="1370.1" r="5.8"/><circle cx="1024.1" cy="1375" r="5.8"/><circle cx="1028" cy="1364" r="5.8"/>
<circle cx="1059.3" cy="1365.1" r="5.8"/><circle cx="1066.5" cy="1365.8" r="5.8"/><circle cx="1075.5" cy="1373.6" r="5.8"/><circle cx="1077.3" cy="1380.7" r="5.8"/><circle cx="1082.7" cy="1396.2" r="5.8"/><circle cx="1075.5" cy="1389.2" r="5.8"/><circle cx="1066.5" cy="1386.3" r="5.8"/><circle cx="1061" cy="1397.6" r="5.8"/><circle cx="1053.9" cy="1403.3" r="5.8"/><circle cx="1046.7" cy="1410.4" r="5.8"/><circle cx="1037.7" cy="1414.6" r="5.8"/><circle cx="1035.9" cy="1375" r="5.8"/><circle cx="1044.9" cy="1373.6" r="5.8"/><circle cx="1035.9" cy="1377.8" r="5.8"/>
<circle cx="945.8" cy="1448.6" r="5.8"/><circle cx="951.2" cy="1444.3" r="5.8"/><circle cx="954.8" cy="1438.7" r="5.8"/><circle cx="958.4" cy="1434.4" r="5.8"/><circle cx="953" cy="1425.9" r="5.8"/><circle cx="958.4" cy="1416" r="5.8"/><circle cx="963.8" cy="1431.6" r="5.8"/><circle cx="969.2" cy="1425.9" r="5.8"/><circle cx="972.8" cy="1420.3" r="5.8"/><circle cx="972.8" cy="1434.4" r="5.8"/><circle cx="981.8" cy="1423.1" r="5.8"/><circle cx="987.2" cy="1435.8" r="5.8"/><circle cx="990.8" cy="1406.1" r="5.8"/><circle cx="996.2" cy="1431.6" r="5.8"/><circle cx="999.8" cy="1404.7" r="5.8"/><circle cx="1003.4" cy="1413.2" r="5.8"/><circle cx="1008.8" cy="1397.6" r="5.8"/><circle cx="1010.6" cy="1403.3" r="5.8"/><circle cx="1014.2" cy="1413.2" r="5.8"/><circle cx="1012.4" cy="1428.8" r="5.8"/><circle cx="1017.8" cy="1386.3" r="5.8"/><circle cx="1019.6" cy="1396.2" r="5.8"/><circle cx="1019.6" cy="1430.2" r="5.8"/><circle cx="1021.4" cy="1424.5" r="5.8"/><circle cx="1025" cy="1406.1" r="5.8"/><circle cx="1028.6" cy="1400.5" r="5.8"/><circle cx="1032.2" cy="1392" r="5.8"/><circle cx="1035.8" cy="1379.2" r="5.8"/><circle cx="1035.8" cy="1411.8" r="5.8"/><circle cx="1039.5" cy="1399.1" r="5.8"/><circle cx="1043.1" cy="1392" r="5.8"/><circle cx="1046.7" cy="1386.3" r="5.8"/><circle cx="1046.7" cy="1406.1" r="5.8"/><circle cx="1053.9" cy="1392" r="5.8"/><circle cx="1053.9" cy="1400.5" r="5.8"/><circle cx="1057.5" cy="1406.1" r="5.8"/><circle cx="1061.1" cy="1397.6" r="5.8"/><circle cx="1050.3" cy="1380.7" r="5.8"/><circle cx="1028.6" cy="1420.3" r="5.8"/><circle cx="1034" cy="1409" r="5.8"/><circle cx="1008.8" cy="1420.3" r="5.8"/><circle cx="999.8" cy="1417.4" r="5.8"/><circle cx="992.6" cy="1420.3" r="5.8"/><circle cx="981.8" cy="1427.4" r="5.8"/><circle cx="978.2" cy="1431.6" r="5.8"/><circle cx="969.2" cy="1437.3" r="5.8"/><circle cx="963.8" cy="1440.1" r="5.8"/><circle cx="958.4" cy="1445.7" r="5.8"/><circle cx="949.4" cy="1451.4" r="5.8"/><circle cx="944" cy="1450" r="5.8"/><circle cx="954.8" cy="1450" r="5.8"/><circle cx="1003.4" cy="1424.5" r="5.8"/><circle cx="1014.2" cy="1392" r="5.8"/><circle cx="1023.2" cy="1386.3" r="5.8"/><circle cx="1028.6" cy="1390.6" r="5.8"/><circle cx="1043.1" cy="1377.8" r="5.8"/><circle cx="1039.5" cy="1383.5" r="5.8"/><circle cx="1053.9" cy="1383.5" r="5.8"/>
</g>
<line x1="945.1" y1="1460.7" x2="1453.4" y2="1057.5" stroke="#e5392e" stroke-width="1.6"/>
</svg>
</body></html>
